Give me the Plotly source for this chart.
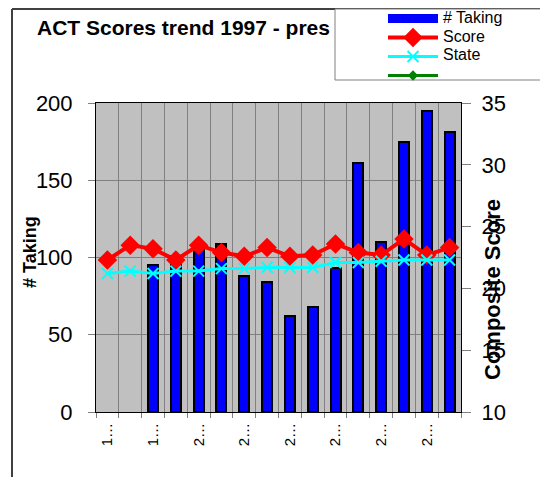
import plotly.graph_objects as go

# ACT scores, one category per year
years = list(range(1997, 2013))
tick_labels = ["1…", "1…", "2…", "2…", "2…", "2…", "2…", "2…"]
taking = [None, None, 95, 101, 106, 109, 88, 84, 62, 68, 93, 161, 110, 175, 195, 181]
score = [22.3, 23.5, 23.2, 22.3, 23.5, 22.9, 22.6, 23.3, 22.6, 22.7, 23.6, 22.9, 22.7, 24.0, 22.7, 23.3]
state = [21.2, 21.4, 21.2, 21.4, 21.4, 21.6, 21.6, 21.7, 21.7, 21.7, 22.1, 22.1, 22.2, 22.3, 22.3, 22.3]
legend_names = ["# Taking", "Score", "State"]

pos = list(range(len(years)))
FONT = "Arial, Liberation Sans, sans-serif"

# the page has an 8px body margin, so the figure is 8px smaller than the window
W, H = 540, 469
PL, PR, PT, PB = 96, 461, 103, 412  # plot area in window pixels


def px_x(x):
    return (x - PL) / (PR - PL)


def px_y(y):
    return (PB - y) / (PB - PT)


fig = go.Figure()
fig.add_trace(go.Bar(
    x=pos, y=taking, name="# Taking", width=0.44, showlegend=False,
    marker=dict(color="#0000FF", line=dict(color="black", width=2)),
))
# legend stand-in for the bars (wide block like the original)
fig.add_trace(go.Scatter(
    x=[None], y=[None], name=" ", mode="lines",
    line=dict(color="#0000FF", width=9),
))
fig.add_trace(go.Scatter(
    x=pos, y=score, name=" ", yaxis="y2", mode="lines+markers",
    line=dict(color="#FF0000", width=4),
    marker=dict(symbol="diamond", size=15, color="#FF0000"),
))
fig.add_trace(go.Scatter(
    x=pos, y=state, name=" ", yaxis="y2", mode="lines+markers",
    line=dict(color="#00FFFF", width=3),
    marker=dict(symbol="x-thin", size=11, line=dict(color="#00FFFF", width=2)),
))
fig.add_trace(go.Scatter(
    x=[None], y=[None], name=" ", yaxis="y2", mode="lines+markers",
    line=dict(color="#008000", width=3),
    marker=dict(symbol="diamond", size=8, color="#008000"),
))

fig.update_layout(
    width=W, height=H,
    margin=dict(l=PL - 8, r=548 - PR, t=PT - 8, b=477 - PB, autoexpand=False),
    paper_bgcolor="white", plot_bgcolor="#C0C0C0",
    font=dict(family=FONT, color="black"),
    bargap=0,
    title=dict(text="<b>ACT Scores trend 1997 - pres</b>", x=(37 - 8) / W, xanchor="left",
               xref="container", y=1 - (28 - 8) / H, yanchor="middle", font=dict(size=21)),
    xaxis=dict(
        range=[-0.5, len(years) - 0.5], tickvals=pos[::2], ticktext=tick_labels,
        tickangle=-90, tickfont=dict(size=15), showgrid=False, zeroline=False,
        ticks="", showline=True, linecolor="black", linewidth=1, mirror=True,
        ticklabelstandoff=4,
        minor=dict(tickvals=[p - 0.5 for p in pos] + [len(years) - 0.5], showgrid=True,
                   gridcolor="#808080", gridwidth=1, ticks="outside", ticklen=5,
                   tickcolor="#808080"),
    ),
    yaxis=dict(
        range=[0, 200], dtick=50, tickfont=dict(size=22), ticks="outside", ticklen=7,
        tickcolor="#808080", gridcolor="#808080", gridwidth=1, zeroline=False,
        showline=True, linecolor="black", linewidth=1, ticklabelstandoff=11,
    ),
    yaxis2=dict(
        range=[10, 35], dtick=5, overlaying="y", side="right", tickfont=dict(size=22),
        ticks="outside", ticklen=9, tickcolor="#808080", showgrid=False, zeroline=False,
        showline=True, linecolor="black", linewidth=1, ticklabelstandoff=6,
    ),
    legend=dict(
        x=px_x(383), y=px_y(4), xanchor="left", yanchor="top",
        bgcolor="rgba(0,0,0,0)", borderwidth=0, font=dict(size=12),
        tracegroupgap=0, itemwidth=50,
    ),
    showlegend=True,
)

# legend labels, set tighter than plotly's own legend text
for i, name in enumerate(legend_names):
    fig.add_annotation(text=name, xref="paper", yref="paper", x=px_x(441), y=px_y(17.5 + 18.5 * i),
                       xanchor="left", yanchor="middle", showarrow=False, font=dict(size=16))

fig.add_annotation(text="<b># Taking</b>", textangle=-90, xref="paper", yref="paper",
                   x=px_x(30), y=px_y(252), xanchor="center", yanchor="middle",
                   showarrow=False, font=dict(size=18))
fig.add_annotation(text="<b>Composite Score</b>", textangle=-90, xref="paper", yref="paper",
                   x=px_x(492), y=px_y(290), xanchor="center", yanchor="middle",
                   showarrow=False, font=dict(size=22))

# outer chart frame, cut off by the image edges
fig.add_shape(type="line", xref="paper", yref="paper", x0=px_x(12), x1=px_x(12),
              y0=px_y(490), y1=px_y(9), line=dict(color="#404040", width=2))
fig.add_shape(type="line", xref="paper", yref="paper", x0=px_x(12), x1=px_x(560),
              y0=px_y(9), y1=px_y(9), line=dict(color="#404040", width=2))
# legend box
fig.add_shape(type="rect", xref="paper", yref="paper", x0=px_x(335), x1=px_x(560),
              y0=px_y(80), y1=px_y(9), fillcolor="white",
              line=dict(color="#808080", width=1), layer="above")

fig.write_html("out.html")
